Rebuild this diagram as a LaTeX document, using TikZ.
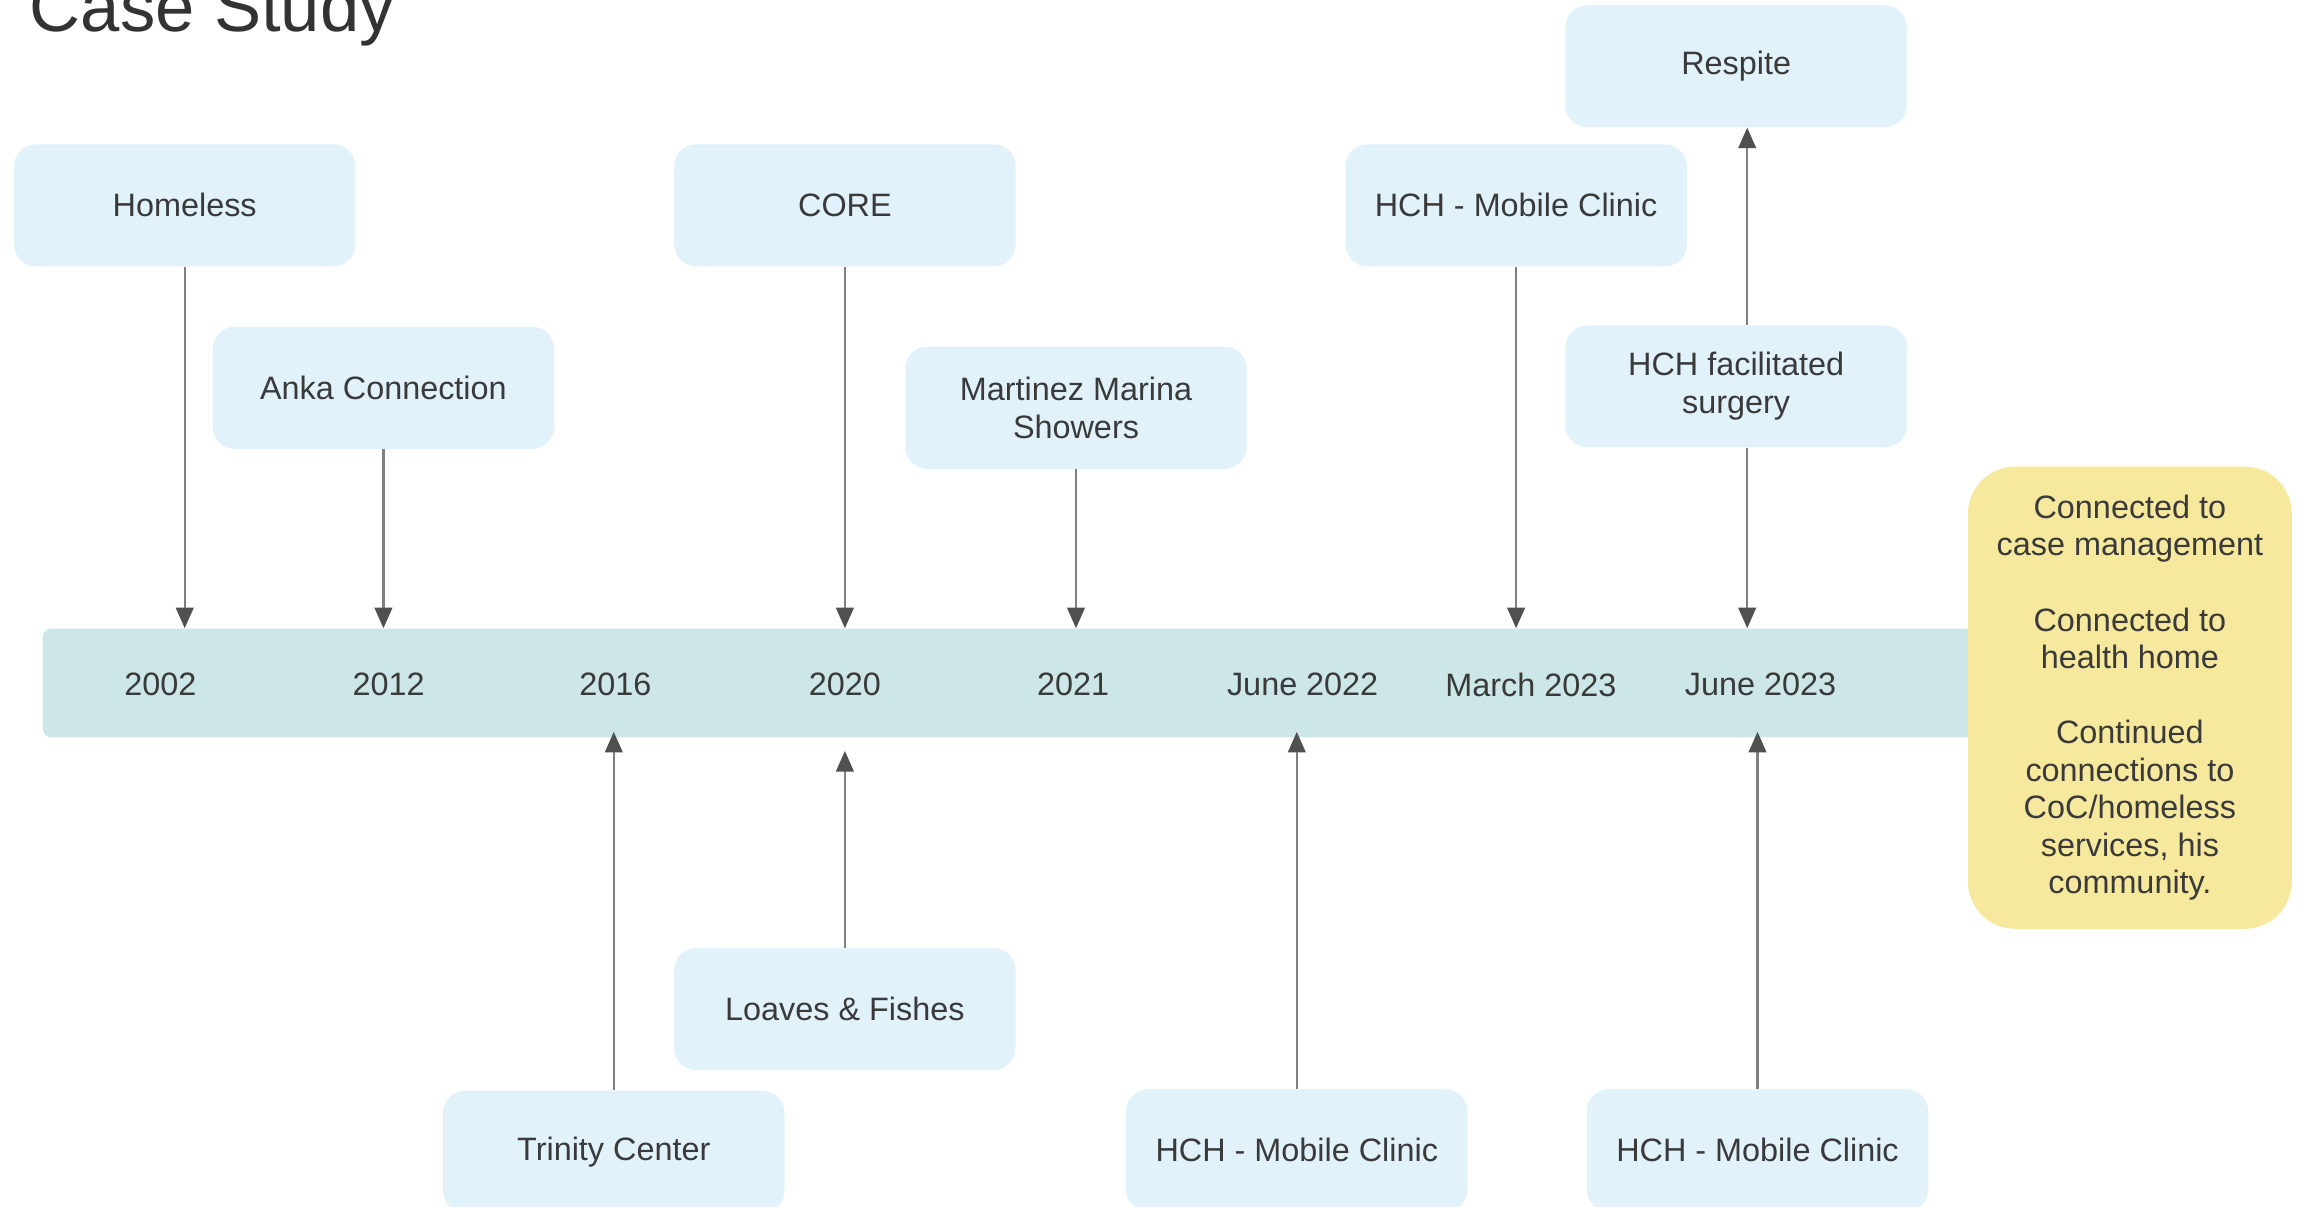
\documentclass[tikz,border=0pt]{standalone}
\usepackage{fontspec}
\setmainfont{Liberation Sans}
\usetikzlibrary{arrows.meta,calc}
\definecolor{boxblue}{HTML}{E1F2FA}
\definecolor{barblue}{HTML}{CDE6E8}
\definecolor{noteyellow}{HTML}{F6E99D}
\definecolor{txt}{HTML}{3A3A3A}
\definecolor{titlecol}{HTML}{333333}
\definecolor{linegray}{HTML}{808080}
\definecolor{tipgray}{HTML}{505050}
\begin{document}
\begin{tikzpicture}[x=1pt,y=-1pt,
  evbox/.style={fill=boxblue, rounded corners=15pt, minimum width=232pt, minimum height=83pt,
    inner sep=0pt, align=center, text=txt, font=\fontsize{22}{26}\selectfont},
  yearlbl/.style={text=txt, font=\fontsize{22}{26}\selectfont, inner sep=0pt},
  conn/.style={draw=linegray, line width=1.5pt, -{Triangle[length=14pt,width=12pt,color=tipgray]}},
]
\useasboundingbox (0,0) rectangle (1568,820);
\clip (0,0) rectangle (1568,820);

% title
\node[anchor=base west, inner sep=0pt, text=titlecol, font=\fontsize{48}{56}\selectfont] (title) at (20,21.5) {Case Study};

% timeline bar
\node[fill=barblue, rounded corners=6pt, minimum width=1316pt, minimum height=74pt, inner sep=0pt] (bar) at (687,464) {};

% summary note
\node[fill=noteyellow, rounded corners=32pt, minimum width=220pt, minimum height=314pt, inner sep=0pt,
  align=center, text=txt, font=\fontsize{22}{25.5}\selectfont] (note) at (1447,474)
  {Connected to\\case management\\[25.5pt]Connected to\\health home\\[25.5pt]Continued\\connections to\\CoC/homeless\\services, his\\community.};

% year labels
\node[yearlbl] (y2002) at (109,465) {2002};
\node[yearlbl] (y2012) at (264,465) {2012};
\node[yearlbl] (y2016) at (418,465) {2016};
\node[yearlbl] (y2020) at (574,465) {2020};
\node[yearlbl] (y2021) at (729,465) {2021};
\node[yearlbl] (y2022) at (885,465) {June 2022};
\node[yearlbl] (y2023a) at (1040,465) {March 2023};
\node[yearlbl] (y2023b) at (1196,465) {June 2023};

% top events
\node[evbox] (home) at (125.5,139.5) {Homeless};
\node[evbox] (anka) at (260.5,263.5) {Anka Connection};
\node[evbox] (core) at (574,139.5) {CORE};
\node[evbox] (mart) at (731,277) {Martinez Marina\\Showers};
\node[evbox] (hcht) at (1030,139.5) {HCH - Mobile Clinic};
\node[evbox] (resp) at (1179.5,45) {Respite};
\node[evbox] (surg) at (1179.5,262.5) {HCH facilitated\\surgery};

% bottom events
\node[evbox] (loav) at (574,685.5) {Loaves \& Fishes};
\node[evbox] (trin) at (417,782.5) {Trinity Center};
\node[evbox] (hchb1) at (881,781.5) {HCH - Mobile Clinic};
\node[evbox] (hchb2) at (1194,781.5) {HCH - Mobile Clinic};

% connectors from above
\draw[conn] (home.south) -- (home.south |- bar.north);
\draw[conn] (anka.south) -- (anka.south |- bar.north);
\draw[conn] (core.south) -- (core.south |- bar.north);
\draw[conn] (mart.south) -- (mart.south |- bar.north);
\draw[conn] (hcht.south) -- (hcht.south |- bar.north);
\draw[conn] ($(surg.south)+(7.5,0)$) -- ($(surg.south |- bar.north)+(7.5,0)$);
\draw[conn] ($(surg.north)+(7.5,0)$) -- ($(surg.north |- resp.south)+(7.5,0)$);

% connectors from below
\draw[conn] (trin.north) -- ($(trin.north |- bar.south)+(0,-4)$);
\draw[conn] (loav.north) -- ($(loav.north |- bar.south)+(0,9)$);
\draw[conn] (hchb1.north) -- ($(hchb1.north |- bar.south)+(0,-4)$);
\draw[conn] (hchb2.north) -- ($(hchb2.north |- bar.south)+(0,-4)$);
\end{tikzpicture}
\end{document}
